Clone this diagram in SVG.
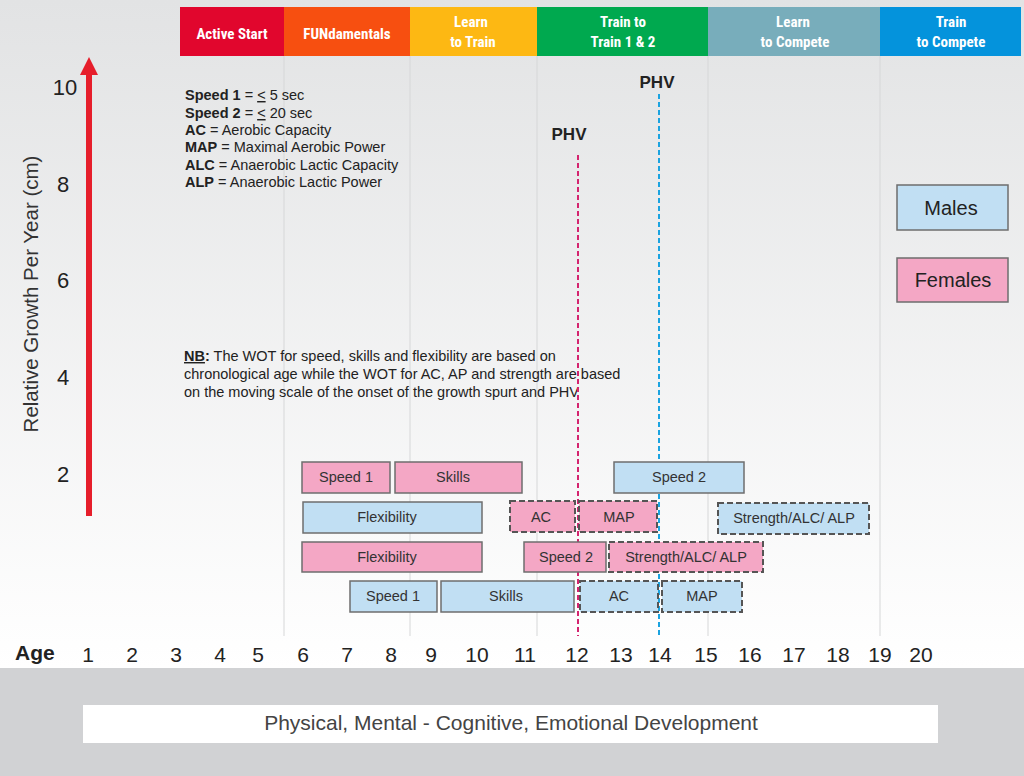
<svg xmlns="http://www.w3.org/2000/svg" width="1024" height="776" viewBox="0 0 1024 776">
<defs>
<linearGradient id="bg" x1="0" y1="0" x2="0" y2="1">
<stop offset="0" stop-color="#e2e3e4"/>
<stop offset="1" stop-color="#ffffff"/>
</linearGradient>
<style>
.hdr{font-family:"Liberation Sans Narrow","Roboto Condensed","Liberation Sans",sans-serif;font-weight:bold;font-size:15px;fill:#fff;text-anchor:middle}
.grid{stroke:#d6d7d8;stroke-width:1}
.ylab{font-family:"Liberation Sans",Arial,sans-serif;font-size:22px;fill:#222;text-anchor:middle}
.age{font-family:"Liberation Sans",Arial,sans-serif;font-size:21px;fill:#222;text-anchor:middle}
.leg{font-family:"Liberation Sans",Arial,sans-serif;font-size:14.5px;fill:#222}
.b{font-weight:bold}
.phv{font-family:"Liberation Sans",Arial,sans-serif;font-size:17px;font-weight:bold;fill:#222;text-anchor:middle}
.pink{fill:#f4a7c5;stroke:#6e6e6e;stroke-width:1.5}
.blue{fill:#c1dff3;stroke:#6e6e6e;stroke-width:1.5}
.dash{stroke:#555;stroke-width:2;stroke-dasharray:6,3}
.bt{font-family:"Liberation Sans",Arial,sans-serif;font-size:14.5px;fill:#333;text-anchor:middle}
.lt{font-family:"Liberation Sans",Arial,sans-serif;font-size:20px;fill:#222;text-anchor:middle}
</style>
</defs>
<rect x="0" y="0" width="1024" height="668" fill="url(#bg)"/>
<rect x="0" y="668" width="1024" height="108" fill="#d1d2d4"/>

<g id="header">
<rect x="180" y="7" width="104" height="49" fill="#e1062d"/>
<rect x="284" y="7" width="126" height="49" fill="#f74f10"/>
<rect x="410" y="7" width="127" height="49" fill="#fdb813"/>
<rect x="537" y="7" width="171" height="49" fill="#00a94f"/>
<rect x="708" y="7" width="172" height="49" fill="#78adbb"/>
<rect x="880" y="7" width="141" height="49" fill="#0493dc"/>
<text class="hdr" x="232" y="39">Active Start</text>
<text class="hdr" x="347" y="39">FUNdamentals</text>
<text class="hdr" x="471" y="27">Learn</text>
<text class="hdr" x="473" y="47">to Train</text>
<text class="hdr" x="623" y="27">Train to</text>
<text class="hdr" x="623" y="47">Train 1 &amp; 2</text>
<text class="hdr" x="793" y="27">Learn</text>
<text class="hdr" x="795" y="47">to Compete</text>
<text class="hdr" x="951" y="27">Train</text>
<text class="hdr" x="951" y="47">to Compete</text>
</g>

<g id="grid">
<line class="grid" x1="284" y1="56" x2="284" y2="636"/>
<line class="grid" x1="410" y1="56" x2="410" y2="636"/>
<line class="grid" x1="537" y1="56" x2="537" y2="636"/>
<line class="grid" x1="708" y1="56" x2="708" y2="636"/>
<line class="grid" x1="880" y1="56" x2="880" y2="636"/>
</g>

<g id="yaxis">
<line x1="89" y1="72" x2="89" y2="516" stroke="#e61e2b" stroke-width="6"/>
<polygon points="89,57 98,75 80,75" fill="#e61e2b"/>
<text class="ylab" x="65" y="95">10</text>
<text class="ylab" x="63" y="192">8</text>
<text class="ylab" x="63" y="288">6</text>
<text class="ylab" x="63" y="385">4</text>
<text class="ylab" x="63" y="482">2</text>
<text font-family="Liberation Sans, Arial, sans-serif" font-size="20.5" fill="#333" text-anchor="middle" transform="translate(38,294) rotate(-90)">Relative Growth Per Year (cm)</text>
</g>

<g id="legend-text">
<text class="leg" x="185" y="100"><tspan class="b">Speed 1</tspan> = <tspan text-decoration="underline">&lt;</tspan> 5 sec</text>
<text class="leg" x="185" y="118"><tspan class="b">Speed 2</tspan> = <tspan text-decoration="underline">&lt;</tspan> 20 sec</text>
<text class="leg" x="185" y="135"><tspan class="b">AC</tspan> = Aerobic Capacity</text>
<text class="leg" x="185" y="152"><tspan class="b">MAP</tspan> = Maximal Aerobic Power</text>
<text class="leg" x="185" y="170"><tspan class="b">ALC</tspan> = Anaerobic Lactic Capacity</text>
<text class="leg" x="185" y="187"><tspan class="b">ALP</tspan> = Anaerobic Lactic Power</text>
</g>

<g id="nb-text">
<text class="leg" x="184" y="361"><tspan class="b" text-decoration="underline">NB</tspan><tspan class="b">:</tspan> The WOT for speed, skills and flexibility are based on</text>
<text class="leg" x="184" y="379">chronological age while the WOT for AC, AP and strength are based</text>
<text class="leg" x="184" y="397">on the moving scale of the onset of the growth spurt and PHV</text>
</g>

<g id="phv">
<text class="phv" x="569" y="140">PHV</text>
<text class="phv" x="657" y="88">PHV</text>
</g>

<g id="connectors">
<line x1="578" y1="155" x2="578" y2="636" stroke="#d4246f" stroke-width="2" stroke-dasharray="5,3"/>
<line x1="659" y1="94" x2="659" y2="636" stroke="#1ba3e0" stroke-width="2" stroke-dasharray="5,3"/>
</g>

<g id="f-speed1"><rect class="pink" x="302" y="462" width="88" height="31"/><text class="bt" x="346" y="482">Speed 1</text></g>
<g id="f-skills"><rect class="pink" x="395" y="462" width="127" height="31"/><text class="bt" x="453" y="482">Skills</text></g>
<g id="m-speed2"><rect class="blue" x="614" y="462" width="130" height="31"/><text class="bt" x="679" y="482">Speed 2</text></g>

<g id="m-flex"><rect class="blue" x="303" y="502" width="179" height="31"/><text class="bt" x="387" y="522">Flexibility</text></g>
<g id="f-ac"><rect class="pink dash" x="510" y="501" width="65" height="31"/><text class="bt" x="541" y="522">AC</text></g>
<g id="f-map"><rect class="pink dash" x="579" y="501" width="78" height="31"/><text class="bt" x="619" y="522">MAP</text></g>
<g id="m-strength"><rect class="blue dash" x="718" y="503" width="151" height="31"/><text class="bt" x="794" y="523">Strength/ALC/ ALP</text></g>

<g id="f-flex"><rect class="pink" x="302" y="542" width="180" height="30"/><text class="bt" x="387" y="562">Flexibility</text></g>
<g id="f-speed2"><rect class="pink" x="524" y="542" width="82" height="30"/><text class="bt" x="566" y="562">Speed 2</text></g>
<g id="f-strength"><rect class="pink dash" x="609" y="542" width="154" height="30"/><text class="bt" x="686" y="562">Strength/ALC/ ALP</text></g>

<g id="m-speed1"><rect class="blue" x="350" y="581" width="87" height="31"/><text class="bt" x="393" y="601">Speed 1</text></g>
<g id="m-skills"><rect class="blue" x="441" y="581" width="133" height="31"/><text class="bt" x="506" y="601">Skills</text></g>
<g id="m-ac"><rect class="blue dash" x="580" y="581" width="78" height="31"/><text class="bt" x="619" y="601">AC</text></g>
<g id="m-map"><rect class="blue dash" x="662" y="581" width="80" height="31"/><text class="bt" x="702" y="601">MAP</text></g>

<g id="males"><rect class="blue" x="897" y="185" width="111" height="45"/><text class="lt" x="951" y="215">Males</text></g>
<g id="females"><rect class="pink" x="897" y="258" width="111" height="44"/><text class="lt" x="953" y="287">Females</text></g>

<g id="age-axis">
<text font-family="Liberation Sans, Arial, sans-serif" font-size="21" font-weight="bold" fill="#222" x="15" y="660">Age</text>
<text class="age" x="88" y="662">1</text>
<text class="age" x="132" y="662">2</text>
<text class="age" x="176" y="662">3</text>
<text class="age" x="220" y="662">4</text>
<text class="age" x="258" y="662">5</text>
<text class="age" x="303" y="662">6</text>
<text class="age" x="347" y="662">7</text>
<text class="age" x="391" y="662">8</text>
<text class="age" x="431" y="662">9</text>
<text class="age" x="477" y="662">10</text>
<text class="age" x="525" y="662">11</text>
<text class="age" x="577" y="662">12</text>
<text class="age" x="621" y="662">13</text>
<text class="age" x="660" y="662">14</text>
<text class="age" x="706" y="662">15</text>
<text class="age" x="750" y="662">16</text>
<text class="age" x="794" y="662">17</text>
<text class="age" x="838" y="662">18</text>
<text class="age" x="880" y="662">19</text>
<text class="age" x="921" y="662">20</text>
</g>

<g id="development">
<rect x="83" y="705" width="855" height="38" fill="#ffffff"/>
<text font-family="Liberation Sans, Arial, sans-serif" font-size="21" fill="#444" text-anchor="middle" x="511" y="730">Physical, Mental - Cognitive, Emotional Development</text>
</g>
</svg>
